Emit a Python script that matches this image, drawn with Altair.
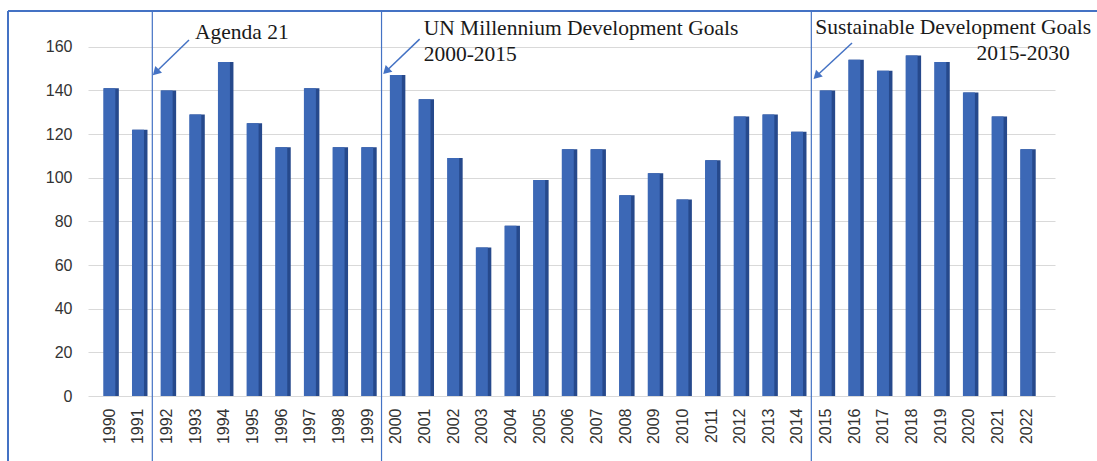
import altair as alt
import pandas as pd

# ---- data ----
years = list(range(1990, 2023))
values = [141, 122, 140, 129, 153, 125, 114, 141, 114, 114,
          147, 136, 109, 68, 78, 99, 113, 113, 92, 102, 90, 108, 128, 129, 121,
          140, 154, 149, 156, 153, 139, 128, 113]

y_ticks = [0, 20, 40, 60, 80, 100, 120, 140, 160]
separators = [1991.5, 1999.5, 2014.5]

# annotation texts (x = year position of text anchor, y = value level of baseline)
ann_text = ["Agenda 21", "UN Millennium Development Goals", "2000-2015",
            "Sustainable Development Goals"]
ann_x = [1992.99, 2000.97, 2000.97, 2014.64]
ann_y = [163.7, 165.5, 153.6, 166.0]
right_text = ["2015-2030"]
right_x = [2023.52]
right_y = [154.0]

# arrows (start -> tip)
arr_x1 = [1992.78, 2000.83, 2015.92]
arr_y1 = [163.1, 163.5, 161.7]
arr_x2 = [1991.62, 1999.66, 2014.68]
arr_y2 = [148.3, 148.8, 146.6]

W, H = 967, 382
XDOM = [1989.43, 2022.83]
YDOM = [0, 175]
FRAME = "#4472c4"

df = pd.DataFrame({"year": years, "value": values})
xs = alt.Scale(domain=XDOM, nice=False, zero=False)
ys = alt.Scale(domain=YDOM, nice=False)

x_axis = alt.Axis(values=years, format="d", labelAngle=-90, grid=False,
                  domain=False, ticks=False, labelPadding=12,
                  labelOverlap=False, labelFlush=False,
                  labelFontSize=16, labelColor="#333333",
                  labelFont="Liberation Sans", title=None)
y_axis = alt.Axis(values=y_ticks, grid=True, gridColor="#d9d9d9",
                  domain=False, ticks=False, labelPadding=16,
                  labelFontSize=16, labelColor="#333333",
                  labelFont="Liberation Sans", title=None)


def X(field):
    return alt.X(field, scale=xs, axis=x_axis)


def Y(field):
    return alt.Y(field, scale=ys, axis=y_axis)


base = alt.Chart(df)

side = base.mark_bar(size=15, xOffset=2, color="#26498c").encode(
    x=X("year:Q"), y=Y("value:Q"))
front = base.mark_bar(size=12, color="#3c68b6").encode(
    x=X("year:Q"), y=Y("value:Q"))

sep_df = pd.DataFrame({"x": separators})
seps = alt.Chart(sep_df).mark_rule(color=FRAME, strokeWidth=1.2).encode(
    x=X("x:Q"), y=alt.value(-3), y2=alt.value(H + 70))

one = pd.DataFrame({"a": [0]})
frame_top = alt.Chart(one).mark_rule(color=FRAME, strokeWidth=2).encode(
    x=alt.value(-80), x2=alt.value(W + 45), y=alt.value(-3))
frame_left = alt.Chart(one).mark_rule(color=FRAME, strokeWidth=2).encode(
    x=alt.value(-80), y=alt.value(-3), y2=alt.value(H + 70))

arr_df = pd.DataFrame({"x1": arr_x1, "y1": arr_y1, "x2": arr_x2, "y2": arr_y2})
arr_lines = alt.Chart(arr_df).mark_rule(color=FRAME, strokeWidth=1.5).encode(
    x=X("x1:Q"), y=Y("y1:Q"), x2="x2:Q", y2="y2:Q")
arr_heads = alt.Chart(arr_df).mark_point(shape="triangle-up", filled=True,
                                         size=90, angle=225, color=FRAME,
                                         opacity=1).encode(
    x=X("x2:Q"), y=Y("y2:Q"))

ann_df = pd.DataFrame({"t": ann_text, "x": ann_x, "y": ann_y})
ann = alt.Chart(ann_df).mark_text(align="left", baseline="alphabetic",
                                  font="Liberation Serif", fontSize=21.5,
                                  color="#1a1a1a").encode(
    x=X("x:Q"), y=Y("y:Q"), text="t:N")
rdf = pd.DataFrame({"t": right_text, "x": right_x, "y": right_y})
ann_r = alt.Chart(rdf).mark_text(align="right", baseline="alphabetic",
                                 font="Liberation Serif", fontSize=21.5,
                                 color="#1a1a1a").encode(
    x=X("x:Q"), y=Y("y:Q"), text="t:N")

chart = alt.layer(side, front, seps, frame_top, frame_left, arr_lines,
                  arr_heads, ann, ann_r).properties(
    width=W, height=H,
    autosize=alt.AutoSizeParams(type="none"),
    padding={"left": 88, "top": 14, "right": 42, "bottom": 65},
    background="white",
).configure_view(stroke=None)

chart.save("out.html", embed_options={"renderer": "svg", "actions": False})
